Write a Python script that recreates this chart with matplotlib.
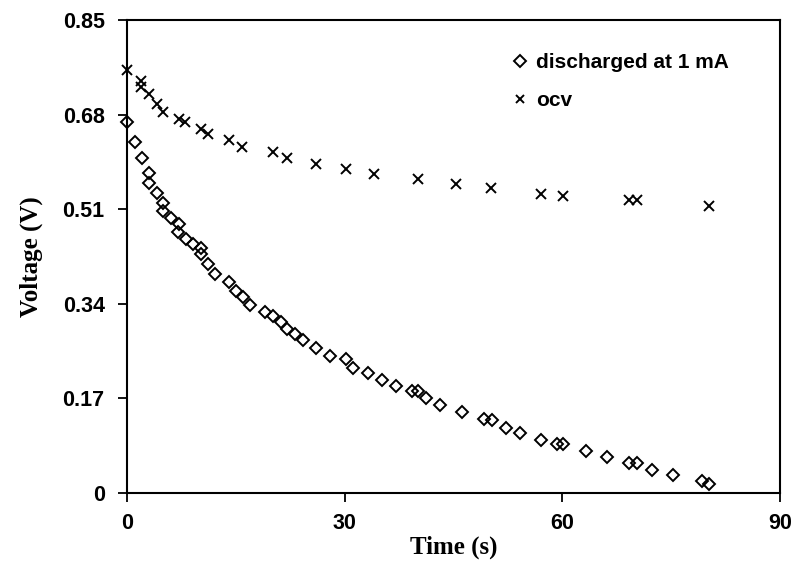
import numpy as np
import matplotlib
matplotlib.use("Agg")
import matplotlib.pyplot as plt

# discharged at 1 mA
t_dis = [0, 1.1, 2.1, 3.0, 3.0, 4.2, 5.0, 5.0, 6.1, 7.2, 7.1, 8.1, 9.1, 10.2, 10.2,
         11.1, 12.2, 14.1, 15.0, 16.0, 16.9, 19.0, 20.1, 21.2, 22.0, 23.2, 24.2,
         26.1, 28.0, 30.2, 31.1, 33.2, 35.2, 37.1, 39.3, 40.1, 41.2, 43.2, 46.2,
         49.2, 50.3, 52.2, 54.1, 57.1, 59.3, 60.1, 63.2, 66.2, 69.2, 70.3, 72.3,
         75.3, 79.3, 80.2]
v_dis = [0.667, 0.631, 0.602, 0.575, 0.558, 0.540, 0.522, 0.507, 0.494, 0.483, 0.470,
         0.456, 0.447, 0.440, 0.430, 0.411, 0.393, 0.380, 0.363, 0.352, 0.338, 0.326,
         0.319, 0.308, 0.295, 0.286, 0.275, 0.261, 0.246, 0.240, 0.224, 0.215, 0.204,
         0.193, 0.183, 0.183, 0.171, 0.158, 0.146, 0.133, 0.132, 0.117, 0.107, 0.096,
         0.088, 0.089, 0.075, 0.065, 0.054, 0.054, 0.042, 0.032, 0.022, 0.017]

# open circuit voltage
t_ocv = [0, 2.0, 1.9, 3.0, 4.2, 5.0, 7.2, 8.0, 10.2, 11.1, 14.1, 15.9, 20.1, 22.0,
         26.1, 30.2, 34.1, 40.1, 45.3, 50.2, 57.1, 60.1, 69.2, 70.3, 80.2]
v_ocv = [0.760, 0.741, 0.729, 0.718, 0.700, 0.684, 0.673, 0.667, 0.655, 0.645, 0.634,
         0.622, 0.612, 0.602, 0.591, 0.583, 0.573, 0.565, 0.555, 0.548, 0.537, 0.533,
         0.526, 0.526, 0.516]

xticks = [0, 30, 60, 90]
yticks = [0, 0.17, 0.34, 0.51, 0.68, 0.85]
ytick_labels = ["0", "0.17", "0.34", "0.51", "0.68", "0.85"]

fig = plt.figure(figsize=(7.97, 5.78), dpi=100)
ax = fig.add_axes([0.1593, 0.147, 0.8194, 0.8183])

ax.plot(t_dis, v_dis, linestyle="none", marker="D", markersize=6.5,
        markerfacecolor="none", markeredgecolor="black", markeredgewidth=1.4,
        label="discharged at 1 mA", clip_on=False)
ax.plot(t_ocv, v_ocv, linestyle="none", marker="x", markersize=7,
        color="black", markeredgewidth=1.4, label="ocv", clip_on=False)

ax.set_xlim(0, 90)
ax.set_ylim(0, 0.85)
ax.set_xticks(xticks)
ax.set_yticks(yticks)
ax.set_yticklabels(ytick_labels)

for s in ax.spines.values():
    s.set_linewidth(1.5)
ax.tick_params(direction="out", length=6.5, width=1.3)
ax.tick_params(axis="y", pad=9.5)
ax.tick_params(axis="x", pad=8)
for lab in ax.get_xticklabels() + ax.get_yticklabels():
    lab.set_fontfamily("Liberation Sans")
    lab.set_fontweight("bold")
    lab.set_fontsize(15.5)

ax.set_xlabel("Time (s)", fontfamily="Liberation Serif", fontweight="bold",
              fontsize=18, labelpad=1)
ax.set_ylabel("Voltage (V)", fontfamily="Liberation Serif", fontweight="bold",
              fontsize=18, labelpad=14)

ax.legend(loc="upper left", frameon=False, handlelength=0.6, handletextpad=0.5,
          markerscale=0.9, bbox_to_anchor=(0.592, 0.93), borderaxespad=0,
          borderpad=0, labelspacing=0.9,
          prop={"family": "Liberation Sans", "weight": "bold", "size": 15})

fig.savefig("out.png", dpi=100)
